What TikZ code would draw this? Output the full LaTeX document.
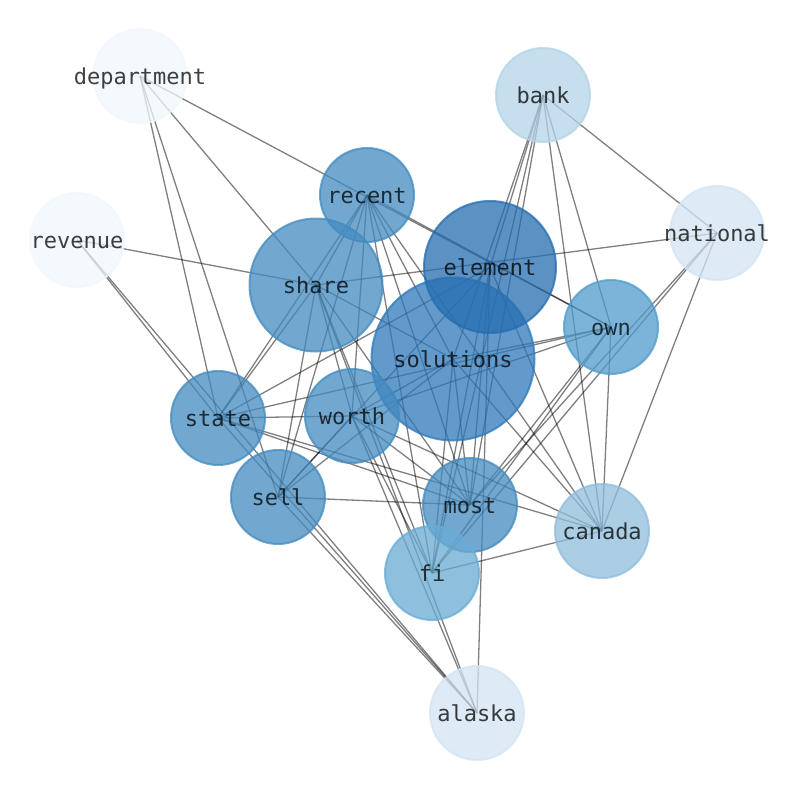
\documentclass[tikz,border=0pt]{standalone}
\usepackage{fontspec}
\setmonofont{DejaVu Sans Mono}
\pgfdeclarelayer{background}
\pgfsetlayers{background,main}
\definecolor{cDept}{RGB}{240,247,253}
\definecolor{cNat}{RGB}{212,228,243}
\definecolor{cBank}{RGB}{179,212,232}
\definecolor{cCan}{RGB}{143,190,221}
\definecolor{cFi}{RGB}{105,172,212}
\definecolor{cOwn}{RGB}{80,156,204}
\definecolor{cMid}{RGB}{67,139,192}
\definecolor{cSol}{RGB}{47,121,187}
\definecolor{cEl}{RGB}{37,109,176}
\begin{document}
\begin{tikzpicture}[x=1pt,y=-1pt,
  nd/.style={circle, inner sep=0pt, minimum size=94pt, line width=2pt,
             fill opacity=0.75, draw opacity=0.75, draw=#1, fill=#1},
  lbl/.style={font=\ttfamily\fontsize{22}{22}\selectfont, text=black,
              text opacity=0.75, inner sep=0pt, text height=0.76em, text depth=0.23em,
              yshift=-5.5pt},
  edge/.style={draw=black, draw opacity=0.5, line width=1.3pt}]
\useasboundingbox (0,0) rectangle (794,790);
% nodes
\node[nd=cDept] (department) at (140,76) {};
\node[nd=cDept] (revenue) at (77,240) {};
\node[nd=cBank] (bank) at (543,95) {};
\node[nd=cNat] (national) at (717,233) {};
\node[nd=cMid] (recent) at (367,195) {};
\node[nd=cMid, minimum size=133pt] (share) at (316,285) {};
\node[nd=cSol, minimum size=163pt] (solutions) at (453,359) {};
\node[nd=cEl, minimum size=132pt] (element) at (490,267) {};
\node[nd=cOwn] (own) at (611,327) {};
\node[nd=cMid] (state) at (218,418) {};
\node[nd=cMid] (worth) at (352,416) {};
\node[nd=cMid] (sell) at (278,497) {};
\node[nd=cMid] (most) at (470,505) {};
\node[nd=cCan] (canada) at (602,531) {};
\node[nd=cFi] (fi) at (432,573) {};
\node[nd=cNat] (alaska) at (477,713) {};
% labels
\foreach \n in {department,revenue,bank,national,recent,share,solutions,element,own,state,worth,sell,most,canada,fi,alaska}
  \node[lbl] at (\n.center) {\n};
% edges
\begin{pgfonlayer}{background}
\fill[white] (0,0) rectangle (794,790);
\foreach \a/\b in {department/own, department/share, department/state, department/sell,
  revenue/share, revenue/state, revenue/alaska,
  bank/national, bank/own, bank/canada, bank/element, bank/solutions, bank/fi, bank/most,
  national/share, national/fi, national/most, national/canada,
  recent/own, recent/share, recent/state, recent/sell, recent/worth, recent/solutions,
  recent/most, recent/fi, recent/canada,
  share/state, share/sell, share/worth, share/fi, share/most, share/alaska, share/solutions,
  element/state, element/sell, element/most, element/fi, element/alaska, element/canada,
  solutions/own, solutions/worth, solutions/sell, solutions/most, solutions/fi, solutions/canada,
  own/worth, own/state, own/fi, own/most, own/canada,
  state/worth, state/most, state/canada, state/alaska,
  worth/sell, worth/most, worth/fi, worth/canada, worth/alaska,
  sell/most, sell/alaska, fi/canada}
  \draw[edge] (\a.center) -- (\b.center);
\end{pgfonlayer}
\end{tikzpicture}
\end{document}
